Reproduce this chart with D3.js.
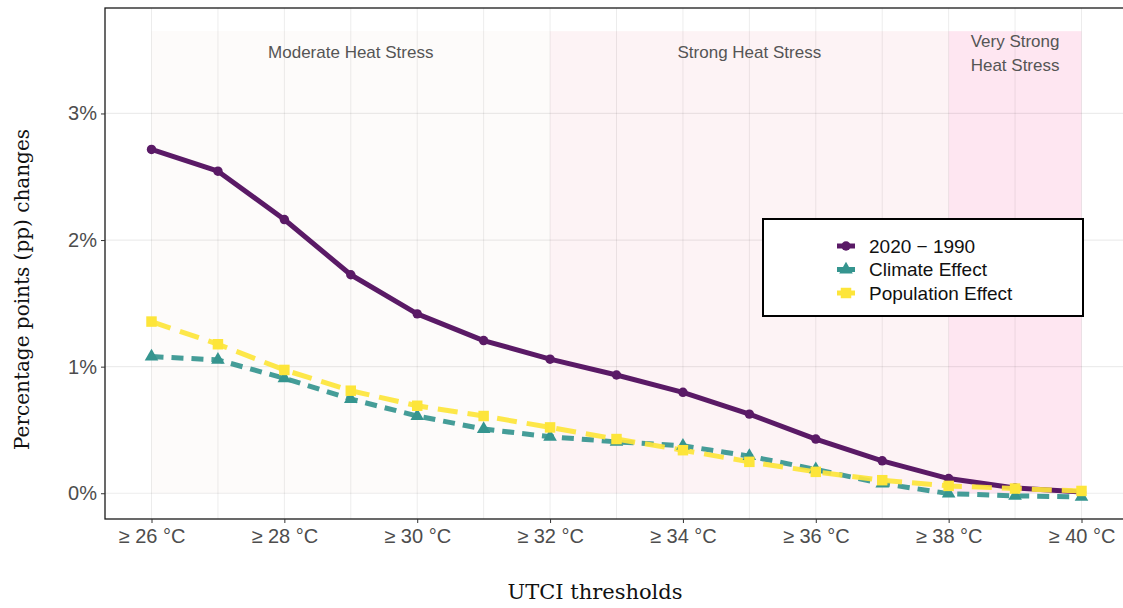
<!DOCTYPE html>
<html>
<head>
<meta charset="utf-8">
<script src="https://cdn.jsdelivr.net/npm/d3@7"></script>
<style>
  body { margin: 0; background: #fff; }
  svg { display: block; }
</style>
</head>
<body>
<svg id="chart" width="1123" height="608"></svg>
<script>
// ---- data ----
const thresholds = [26, 27, 28, 29, 30, 31, 32, 33, 34, 35, 36, 37, 38, 39, 40];
const diff2020_1990 = [2.716, 2.544, 2.162, 1.726, 1.417, 1.206, 1.059, 0.934, 0.797, 0.625, 0.428, 0.256, 0.116, 0.042, 0.010];
const climateEffect = [1.080, 1.053, 0.908, 0.744, 0.610, 0.507, 0.446, 0.406, 0.375, 0.293, 0.188, 0.077, -0.003, -0.021, -0.029];
const populationEffect = [1.356, 1.177, 0.974, 0.810, 0.691, 0.610, 0.520, 0.428, 0.340, 0.248, 0.169, 0.103, 0.058, 0.037, 0.018];
const xTickValues = [26, 28, 30, 32, 34, 36, 38, 40];
const xTickLabels = ["≥ 26 °C", "≥ 28 °C", "≥ 30 °C", "≥ 32 °C", "≥ 34 °C", "≥ 36 °C", "≥ 38 °C", "≥ 40 °C"];
const yTickValues = [0, 1, 2, 3];
const yTickLabels = ["0%", "1%", "2%", "3%"];
const bandNames = ["Moderate Heat Stress", "Strong Heat Stress", "Very Strong|Heat Stress"];
const bandStart = [26, 32, 38];
const bandEnd = [32, 38, 40];
const bandTop = 3.65;
const seriesNames = ["2020 − 1990", "Climate Effect", "Population Effect"];

// ---- layout ----
const svg = d3.select("#chart");
const L = 105, R = 1128, T = 8, B = 519;
const x = d3.scaleLinear().domain([25.3, 40.7]).range([L, R]);
const y = d3.scaleLinear().domain([-0.2035, 3.833]).range([B, T]);

const bandFill = ["#fdfbfa", "#fdf3f5", "#fee6f1"];
const colors = ["#5a1a66", "#35958f", "#fde53a"];

// bands
svg.append("g").selectAll("rect").data(bandStart).join("rect")
  .attr("x", (d) => x(d))
  .attr("width", (d, i) => x(bandEnd[i]) - x(d))
  .attr("y", y(bandTop))
  .attr("height", y(0) - y(bandTop))
  .attr("fill", (d, i) => bandFill[i]);

// grid
const grid = svg.append("g");
grid.selectAll("line.v").data(d3.range(26, 41)).join("line")
  .attr("class", "v")
  .attr("x1", (d) => x(d)).attr("x2", (d) => x(d))
  .attr("y1", T).attr("y2", B)
  .attr("stroke", "rgba(0,0,0,0.075)").attr("stroke-width", 1);
grid.selectAll("line.h").data(yTickValues).join("line")
  .attr("class", "h")
  .attr("x1", L).attr("x2", R)
  .attr("y1", (d) => y(d)).attr("y2", (d) => y(d))
  .attr("stroke", "rgba(0,0,0,0.075)").attr("stroke-width", 1.2);

// band labels
const bandLabelG = svg.append("g")
  .attr("font-family", "Liberation Sans, Arial, sans-serif")
  .attr("font-size", 17).attr("fill", "#555");
bandNames.forEach((name, i) => {
  const cx = x((bandStart[i] + bandEnd[i]) / 2);
  const parts = name.split("|");
  if (parts.length === 1) {
    bandLabelG.append("text").attr("x", cx).attr("y", 58).attr("text-anchor", "middle").text(parts[0]);
  } else {
    parts.forEach((p, j) => {
      bandLabelG.append("text").attr("x", cx).attr("y", 47 + j * 24).attr("text-anchor", "middle").text(p);
    });
  }
});

// lines
const series = [diff2020_1990, climateEffect, populationEffect];
const dashes = [null, "12,8", "20,10"];
const line = d3.line().x((d, i) => x(thresholds[i])).y((d) => y(d));
const linesG = svg.append("g");
series.forEach((vals, s) => {
  linesG.append("path").datum(vals)
    .attr("d", line)
    .attr("fill", "none")
    .attr("stroke", colors[s])
    .attr("stroke-width", 5)
    .attr("stroke-linejoin", "round")
    .attr("stroke-opacity", s === 0 ? 1 : 0.92)
    .attr("stroke-dasharray", dashes[s]);
});
// points
const sym = [d3.symbolCircle, d3.symbolTriangle, d3.symbolSquare];
const symSize = [70, 80, 110];
series.forEach((vals, s) => {
  linesG.append("g").selectAll("path").data(vals).join("path")
    .attr("transform", (d, i) => `translate(${x(thresholds[i])},${y(d)})`)
    .attr("d", d3.symbol().type(sym[s]).size(symSize[s]))
    .attr("fill", colors[s]);
});

// panel border
svg.append("rect").attr("x", L).attr("y", T).attr("width", R - L).attr("height", B - T)
  .attr("fill", "none").attr("stroke", "#1a1a1a").attr("stroke-width", 1.3);

// axes
const xAxis = d3.axisBottom(x).tickValues(xTickValues)
  .tickFormat((d, i) => xTickLabels[i]).tickSize(4).tickPadding(4);
const gx = svg.append("g").attr("transform", `translate(0,${B})`).call(xAxis);
gx.select(".domain").remove();
gx.selectAll(".tick line").attr("stroke", "#333");
gx.selectAll(".tick text").attr("font-family", "Liberation Sans, Arial, sans-serif")
  .attr("font-size", 20).attr("fill", "#4d4d4d").attr("dy", "0.8em");

const yAxis = d3.axisLeft(y).tickValues(yTickValues)
  .tickFormat((d, i) => yTickLabels[i]).tickSize(4).tickPadding(4);
const gy = svg.append("g").attr("transform", `translate(${L},0)`).call(yAxis);
gy.select(".domain").remove();
gy.selectAll(".tick line").attr("stroke", "#333");
gy.selectAll(".tick text").attr("font-family", "Liberation Sans, Arial, sans-serif")
  .attr("font-size", 20).attr("fill", "#4d4d4d");

// axis titles
svg.append("text").attr("x", 595).attr("y", 599)
  .attr("text-anchor", "middle").attr("font-family", "DejaVu Serif, serif")
  .attr("font-size", 21).attr("fill", "#111").text("UTCI thresholds");
svg.append("text").attr("transform", `translate(29,${(128 + 451) / 2}) rotate(-90)`)
  .attr("text-anchor", "middle").attr("font-family", "DejaVu Serif, serif")
  .attr("font-size", 20).attr("fill", "#111").text("Percentage points (pp) changes");

// legend
const lg = svg.append("g");
lg.append("rect").attr("x", 763).attr("y", 219).attr("width", 320).attr("height", 97)
  .attr("fill", "#fff").attr("stroke", "#000").attr("stroke-width", 2);
seriesNames.forEach((name, s) => {
  const ly = 246 + s * 23.5;
  lg.append("line").attr("x1", 837).attr("x2", 855).attr("y1", ly).attr("y2", ly)
    .attr("stroke", colors[s]).attr("stroke-width", 5);
  lg.append("path").attr("transform", `translate(846,${ly})`)
    .attr("d", d3.symbol().type(sym[s]).size(symSize[s])).attr("fill", colors[s]);
  lg.append("text").attr("x", 869).attr("y", ly).attr("dy", "0.35em")
    .attr("font-family", "Liberation Sans, Arial, sans-serif").attr("font-size", 19)
    .attr("fill", "#111").text(name);
});
</script>
</body>
</html>
